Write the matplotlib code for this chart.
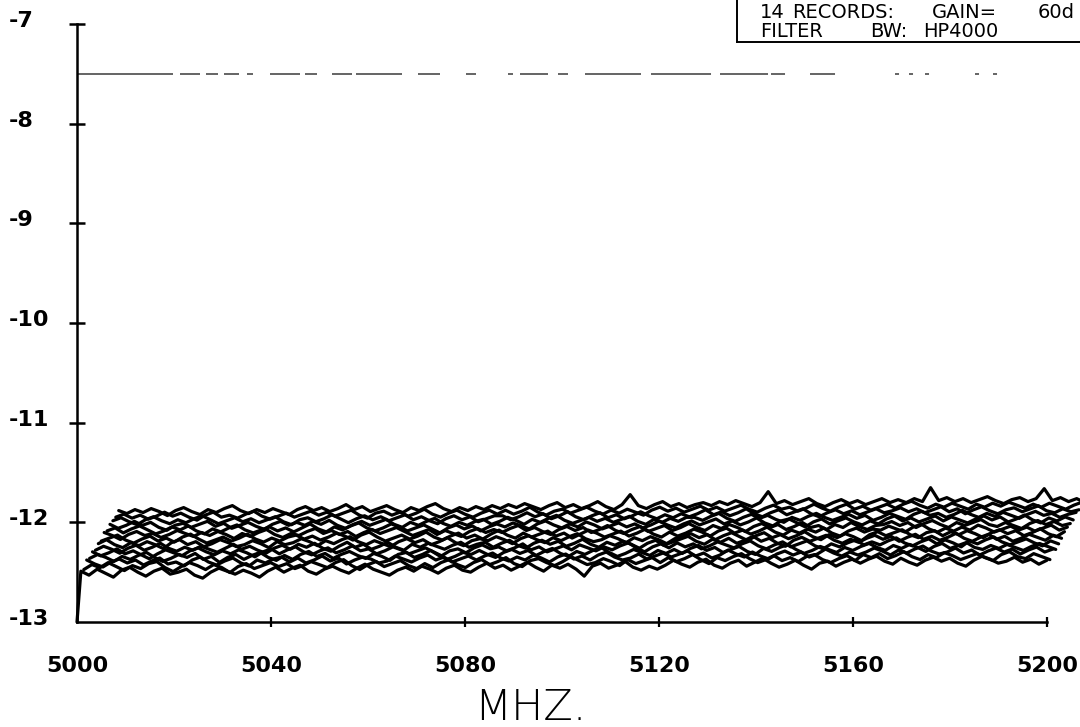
import numpy as np
import matplotlib
matplotlib.use("Agg")
import matplotlib.pyplot as plt
from matplotlib import transforms
from matplotlib.lines import Line2D

plt.rcParams['font.family'] = ['DejaVu Sans']
plt.rcParams['lines.scale_dashes'] = False

# ---------------- data ----------------
x_ticks = [5000, 5040, 5080, 5120, 5160, 5200]
y_ticks = [-13, -12, -11, -10, -9, -8, -7]
x_label = "MHZ."
info_line1 = ["14", "RECORDS:", "GAIN=", "60d"]
info_line2 = ["FILTER", "BW:", "HP4000"]
ref_level = -7.5
front_start_value = -13.00   # first (start) bin of the front record

# 14 records, front (rec01) to back (rec14)
rec01 = [
 -12.49,-12.53,-12.47,-12.51,-12.55,-12.48,-12.45,-12.50,-12.54,-12.49,-12.46,-12.52,-12.50,-12.47,-12.53,-12.56,-12.50,-12.46,-12.49,-12.52,-12.48,-12.51,-12.55,-12.49,
 -12.45,-12.50,-12.46,-12.43,-12.49,-12.52,-12.47,-12.44,-12.48,-12.51,-12.46,-12.42,-12.47,-12.50,-12.53,-12.48,-12.45,-12.49,-12.44,-12.47,-12.51,-12.46,-12.43,-12.48,
 -12.50,-12.45,-12.41,-12.46,-12.43,-12.48,-12.44,-12.40,-12.45,-12.49,-12.43,-12.46,-12.42,-12.47,-12.54,-12.44,-12.41,-12.46,-12.43,-12.39,-12.45,-12.48,-12.44,-12.47,
 -12.43,-12.38,-12.42,-12.45,-12.40,-12.37,-12.43,-12.46,-12.41,-12.38,-12.44,-12.40,-12.36,-12.41,-12.45,-12.42,-12.38,-12.43,-12.47,-12.41,-12.39,-12.44,-12.40,-12.37,
 -12.41,-12.37,-12.34,-12.39,-12.42,-12.36,-12.40,-12.43,-12.38,-12.35,-12.39,-12.36,-12.41,-12.44,-12.38,-12.34,-12.37,-12.41,-12.39,-12.35,-12.40,-12.37,-12.42,-12.38]
rec02 = [
 -12.52,-12.47,-12.50,-12.45,-12.49,-12.53,-12.48,-12.51,-12.46,-12.44,-12.50,-12.54,-12.49,-12.45,-12.48,-12.52,-12.47,-12.50,-12.55,-12.49,-12.46,-12.51,-12.48,-12.45,
 -12.49,-12.46,-12.51,-12.48,-12.44,-12.47,-12.50,-12.45,-12.42,-12.48,-12.52,-12.47,-12.44,-12.49,-12.46,-12.43,-12.48,-12.51,-12.46,-12.50,-12.45,-12.42,-12.47,-12.50,
 -12.45,-12.42,-12.47,-12.44,-12.40,-12.46,-12.49,-12.43,-12.41,-12.45,-12.48,-12.44,-12.39,-12.43,-12.47,-12.45,-12.41,-12.44,-12.48,-12.42,-12.46,-12.43,-12.40,-12.45,
 -12.40,-12.44,-12.41,-12.37,-12.42,-12.46,-12.40,-12.43,-12.39,-12.36,-12.41,-12.45,-12.42,-12.38,-12.43,-12.40,-12.44,-12.39,-12.37,-12.42,-12.45,-12.41,-12.38,-12.43,
 -12.37,-12.40,-12.36,-12.41,-12.38,-12.34,-12.39,-12.42,-12.37,-12.40,-12.35,-12.38,-12.42,-12.39,-12.36,-12.40,-12.43,-12.37,-12.34,-12.39,-12.41,-12.36,-12.39,-12.42]
rec03 = [
 -12.47,-12.51,-12.54,-12.49,-12.46,-12.50,-12.47,-12.52,-12.48,-12.45,-12.51,-12.49,-12.53,-12.47,-12.44,-12.49,-12.52,-12.48,-12.45,-12.50,-12.53,-12.47,-12.50,-12.46,
 -12.44,-12.49,-12.45,-12.50,-12.47,-12.43,-12.48,-12.45,-12.51,-12.47,-12.44,-12.46,-12.50,-12.48,-12.43,-12.46,-12.49,-12.45,-12.42,-12.47,-12.44,-12.49,-12.46,-12.43,
 -12.47,-12.43,-12.40,-12.45,-12.48,-12.44,-12.47,-12.42,-12.45,-12.49,-12.44,-12.41,-12.46,-12.43,-12.47,-12.42,-12.39,-12.44,-12.47,-12.45,-12.41,-12.46,-12.43,-12.40,
 -12.44,-12.41,-12.38,-12.43,-12.40,-12.45,-12.42,-12.37,-12.41,-12.44,-12.39,-12.43,-12.46,-12.41,-12.38,-12.42,-12.39,-12.44,-12.41,-12.36,-12.40,-12.43,-12.39,-12.42,
 -12.39,-12.35,-12.38,-12.42,-12.37,-12.40,-12.36,-12.33,-12.38,-12.41,-12.39,-12.35,-12.40,-12.37,-12.42,-12.38,-12.35,-12.39,-12.36,-12.41,-12.37,-12.34,-12.39,-12.36]
rec04 = [
 -12.50,-12.46,-12.49,-12.53,-12.48,-12.51,-12.47,-12.44,-12.49,-12.53,-12.50,-12.46,-12.49,-12.45,-12.51,-12.48,-12.54,-12.49,-12.46,-12.51,-12.47,-12.44,-12.49,-12.52,
 -12.47,-12.51,-12.46,-12.43,-12.48,-12.45,-12.50,-12.46,-12.43,-12.47,-12.50,-12.45,-12.48,-12.52,-12.46,-12.44,-12.49,-12.46,-12.42,-12.47,-12.51,-12.48,-12.44,-12.46,
 -12.42,-12.46,-12.49,-12.44,-12.41,-12.45,-12.42,-12.47,-12.43,-12.40,-12.45,-12.48,-12.43,-12.46,-12.42,-12.39,-12.44,-12.48,-12.45,-12.41,-12.44,-12.47,-12.42,-12.45,
 -12.41,-12.45,-12.40,-12.37,-12.42,-12.39,-12.44,-12.41,-12.38,-12.43,-12.46,-12.40,-12.43,-12.39,-12.36,-12.41,-12.45,-12.42,-12.38,-12.41,-12.44,-12.39,-12.42,-12.38,
 -12.35,-12.39,-12.42,-12.37,-12.40,-12.36,-12.39,-12.43,-12.38,-12.35,-12.40,-12.37,-12.34,-12.39,-12.41,-12.37,-12.40,-12.36,-12.39,-12.42,-12.38,-12.35,-12.38,-12.41]
rec05 = [
 -12.48,-12.52,-12.49,-12.45,-12.50,-12.47,-12.51,-12.55,-12.50,-12.46,-12.49,-12.52,-12.47,-12.44,-12.48,-12.51,-12.47,-12.50,-12.46,-12.49,-12.53,-12.48,-12.45,-12.50,
 -12.46,-12.43,-12.48,-12.51,-12.47,-12.44,-12.49,-12.46,-12.42,-12.47,-12.45,-12.50,-12.47,-12.43,-12.46,-12.50,-12.47,-12.44,-12.48,-12.52,-12.47,-12.45,-12.49,-12.44,
 -12.41,-12.45,-12.43,-12.47,-12.44,-12.40,-12.46,-12.43,-12.48,-12.45,-12.42,-12.46,-12.41,-12.44,-12.47,-12.43,-12.46,-12.42,-12.39,-12.44,-12.48,-12.43,-12.40,-12.44,
 -12.39,-12.43,-12.40,-12.45,-12.42,-12.38,-12.41,-12.44,-12.40,-12.37,-12.42,-12.45,-12.41,-12.38,-12.43,-12.40,-12.37,-12.42,-12.45,-12.40,-12.43,-12.39,-12.36,-12.41,
 -12.38,-12.41,-12.37,-12.34,-12.39,-12.42,-12.38,-12.35,-12.40,-12.36,-12.39,-12.43,-12.37,-12.40,-12.36,-12.33,-12.38,-12.41,-12.38,-12.35,-12.39,-12.42,-12.37,-12.40]
rec06 = [
 -12.51,-12.47,-12.50,-12.54,-12.49,-12.46,-12.51,-12.48,-12.44,-12.49,-12.52,-12.48,-12.51,-12.47,-12.50,-12.53,-12.49,-12.45,-12.50,-12.47,-12.51,-12.54,-12.49,-12.46,
 -12.50,-12.45,-12.48,-12.44,-12.49,-12.52,-12.47,-12.43,-12.48,-12.45,-12.50,-12.47,-12.43,-12.48,-12.51,-12.45,-12.48,-12.44,-12.47,-12.50,-12.46,-12.43,-12.48,-12.45,
 -12.43,-12.48,-12.44,-12.41,-12.46,-12.49,-12.44,-12.41,-12.45,-12.42,-12.47,-12.44,-12.40,-12.45,-12.48,-12.43,-12.46,-12.42,-12.45,-12.49,-12.44,-12.41,-12.46,-12.43,
 -12.40,-12.37,-12.42,-12.45,-12.40,-12.43,-12.39,-12.44,-12.41,-12.37,-12.42,-12.39,-12.44,-12.47,-12.41,-12.38,-12.42,-12.39,-12.36,-12.41,-12.44,-12.40,-12.43,-12.39,
 -12.36,-12.40,-12.37,-12.42,-12.38,-12.35,-12.40,-12.37,-12.41,-12.38,-12.34,-12.39,-12.42,-12.38,-12.35,-12.40,-12.37,-12.42,-12.39,-12.35,-12.38,-12.41,-12.36,-12.39]
rec07 = [
 -12.49,-12.45,-12.50,-12.53,-12.48,-12.51,-12.47,-12.50,-12.54,-12.48,-12.45,-12.50,-12.47,-12.52,-12.49,-12.45,-12.48,-12.52,-12.50,-12.46,-12.49,-12.53,-12.47,-12.50,
 -12.48,-12.44,-12.47,-12.51,-12.46,-12.49,-12.45,-12.42,-12.47,-12.50,-12.46,-12.49,-12.52,-12.47,-12.44,-12.48,-12.45,-12.50,-12.47,-12.43,-12.48,-12.51,-12.46,-12.44,
 -12.46,-12.42,-12.45,-12.49,-12.44,-12.41,-12.45,-12.48,-12.43,-12.46,-12.42,-12.39,-12.44,-12.47,-12.45,-12.41,-12.44,-12.48,-12.43,-12.46,-12.42,-12.45,-12.49,-12.44,
 -12.42,-12.39,-12.43,-12.40,-12.45,-12.41,-12.38,-12.42,-12.46,-12.41,-12.38,-12.43,-12.40,-12.44,-12.41,-12.37,-12.42,-12.45,-12.40,-12.43,-12.39,-12.42,-12.46,-12.40,
 -12.37,-12.41,-12.38,-12.35,-12.40,-12.43,-12.38,-12.36,-12.41,-12.37,-12.40,-12.36,-12.39,-12.43,-12.38,-12.35,-12.39,-12.36,-12.41,-12.38,-12.34,-12.39,-12.42,-12.37]
rec08 = [
 -12.51,-12.48,-12.45,-12.50,-12.53,-12.49,-12.46,-12.51,-12.48,-12.52,-12.47,-12.44,-12.49,-12.53,-12.50,-12.47,-12.51,-12.48,-12.44,-12.49,-12.52,-12.48,-12.51,-12.47,
 -12.45,-12.49,-12.46,-12.50,-12.47,-12.43,-12.46,-12.50,-12.45,-12.42,-12.47,-12.51,-12.48,-12.45,-12.49,-12.46,-12.42,-12.47,-12.50,-12.46,-12.43,-12.48,-12.45,-12.49,
 -12.44,-12.40,-12.45,-12.48,-12.43,-12.47,-12.44,-12.41,-12.46,-12.43,-12.48,-12.44,-12.40,-12.43,-12.47,-12.44,-12.41,-12.46,-12.43,-12.39,-12.44,-12.47,-12.42,-12.46,
 -12.43,-12.39,-12.42,-12.46,-12.41,-12.38,-12.43,-12.40,-12.44,-12.41,-12.37,-12.42,-12.45,-12.40,-12.43,-12.39,-12.42,-12.38,-12.43,-12.46,-12.41,-12.38,-12.42,-12.39,
 -12.40,-12.36,-12.39,-12.42,-12.37,-12.34,-12.39,-12.42,-12.38,-12.41,-12.37,-12.40,-12.35,-12.38,-12.42,-12.39,-12.36,-12.40,-12.37,-12.41,-12.38,-12.35,-12.40,-12.37]
rec09 = [
 -12.47,-12.50,-12.54,-12.49,-12.46,-12.50,-12.48,-12.52,-12.49,-12.45,-12.48,-12.51,-12.47,-12.50,-12.46,-12.49,-12.53,-12.48,-12.51,-12.47,-12.44,-12.49,-12.52,-12.48,
 -12.50,-12.46,-12.43,-12.48,-12.45,-12.49,-12.46,-12.51,-12.47,-12.44,-12.48,-12.45,-12.42,-12.46,-12.50,-12.47,-12.44,-12.49,-12.45,-12.48,-12.51,-12.46,-12.43,-12.47,
 -12.44,-12.47,-12.43,-12.40,-12.45,-12.42,-12.46,-12.49,-12.44,-12.41,-12.45,-12.42,-12.47,-12.44,-12.40,-12.45,-12.48,-12.44,-12.41,-12.46,-12.43,-12.40,-12.45,-12.42,
 -12.38,-12.42,-12.45,-12.40,-12.43,-12.39,-12.42,-12.46,-12.41,-12.38,-12.42,-12.39,-12.44,-12.41,-12.37,-12.42,-12.40,-12.44,-12.39,-12.42,-12.37,-12.41,-12.44,-12.40,
 -12.39,-12.36,-12.40,-12.37,-12.42,-12.38,-12.35,-12.39,-12.42,-12.37,-12.40,-12.37,-12.34,-12.39,-12.41,-12.37,-12.40,-12.43,-12.38,-12.35,-12.39,-12.36,-12.40,-12.38]
rec10 = [
 -12.50,-12.47,-12.52,-12.48,-12.45,-12.49,-12.53,-12.50,-12.46,-12.49,-12.45,-12.50,-12.53,-12.48,-12.51,-12.47,-12.44,-12.49,-12.52,-12.49,-12.46,-12.50,-12.47,-12.51,
 -12.47,-12.43,-12.48,-12.51,-12.46,-12.49,-12.45,-12.42,-12.47,-12.50,-12.47,-12.43,-12.46,-12.50,-12.47,-12.44,-12.48,-12.52,-12.47,-12.44,-12.48,-12.45,-12.50,-12.46,
 -12.43,-12.46,-12.42,-12.45,-12.48,-12.43,-12.40,-12.44,-12.47,-12.43,-12.46,-12.41,-12.44,-12.48,-12.45,-12.42,-12.46,-12.43,-12.47,-12.44,-12.40,-12.44,-12.47,-12.43,
 -12.40,-12.44,-12.41,-12.38,-12.43,-12.40,-12.44,-12.41,-12.37,-12.42,-12.45,-12.40,-12.38,-12.42,-12.46,-12.41,-12.38,-12.43,-12.40,-12.37,-12.41,-12.44,-12.40,-12.43,
 -12.38,-12.35,-12.40,-12.37,-12.41,-12.38,-12.35,-12.40,-12.36,-12.39,-12.42,-12.38,-12.35,-12.39,-12.36,-12.41,-12.38,-12.34,-12.39,-12.42,-12.37,-12.40,-12.36,-12.39]
rec11 = [
 -12.48,-12.52,-12.49,-12.45,-12.49,-12.46,-12.51,-12.54,-12.49,-12.47,-12.51,-12.48,-12.45,-12.50,-12.47,-12.52,-12.49,-12.46,-12.50,-12.53,-12.48,-12.45,-12.49,-12.46,
 -12.49,-12.45,-12.48,-12.44,-12.49,-12.52,-12.48,-12.45,-12.49,-12.46,-12.43,-12.48,-12.51,-12.46,-12.49,-12.45,-12.42,-12.47,-12.50,-12.46,-12.49,-12.45,-12.43,-12.48,
 -12.45,-12.41,-12.44,-12.48,-12.43,-12.46,-12.42,-12.39,-12.44,-12.47,-12.44,-12.41,-12.45,-12.42,-12.46,-12.43,-12.40,-12.45,-12.48,-12.43,-12.46,-12.42,-12.45,-12.41,
 -12.41,-12.44,-12.40,-12.37,-12.42,-12.45,-12.41,-12.38,-12.42,-12.39,-12.43,-12.46,-12.41,-12.44,-12.40,-12.37,-12.41,-12.44,-12.41,-12.38,-12.42,-12.39,-12.44,-12.41,
 -12.37,-12.40,-12.43,-12.38,-12.35,-12.39,-12.37,-12.41,-12.38,-12.34,-12.38,-12.41,-12.37,-12.40,-12.36,-12.39,-12.42,-12.38,-12.35,-12.39,-12.37,-12.41,-12.38,-12.36]
rec12 = [
 -12.49,-12.46,-12.50,-12.53,-12.48,-12.45,-12.49,-12.52,-12.48,-12.51,-12.47,-12.44,-12.48,-12.52,-12.49,-12.46,-12.50,-12.47,-12.51,-12.48,-12.45,-12.50,-12.53,-12.48,
 -12.46,-12.50,-12.47,-12.43,-12.47,-12.51,-12.47,-12.44,-12.48,-12.45,-12.49,-12.46,-12.43,-12.48,-12.45,-12.49,-12.52,-12.47,-12.44,-12.48,-12.45,-12.50,-12.47,-12.44,
 -12.44,-12.48,-12.45,-12.41,-12.45,-12.42,-12.47,-12.44,-12.40,-12.45,-12.48,-12.44,-12.41,-12.46,-12.43,-12.47,-12.44,-12.40,-12.44,-12.47,-12.43,-12.46,-12.42,-12.45,
 -12.42,-12.38,-12.43,-12.40,-12.44,-12.41,-12.37,-12.42,-12.45,-12.41,-12.38,-12.43,-12.40,-12.37,-12.42,-12.45,-12.41,-12.38,-12.42,-12.39,-12.43,-12.40,-12.37,-12.41,
 -12.39,-12.36,-12.40,-12.37,-12.41,-12.38,-12.35,-12.40,-12.37,-12.42,-12.38,-12.35,-12.39,-12.42,-12.38,-12.36,-12.40,-12.37,-12.34,-12.39,-12.41,-12.37,-12.40,-12.38]
rec13 = [
 -12.50,-12.47,-12.51,-12.48,-12.52,-12.49,-12.45,-12.49,-12.46,-12.50,-12.53,-12.48,-12.45,-12.50,-12.48,-12.51,-12.47,-12.44,-12.49,-12.52,-12.49,-12.46,-12.50,-12.47,
 -12.44,-12.48,-12.45,-12.49,-12.46,-12.43,-12.48,-12.51,-12.46,-12.44,-12.48,-12.45,-12.49,-12.46,-12.42,-12.47,-12.50,-12.46,-12.43,-12.47,-12.50,-12.46,-12.43,-12.47,
 -12.43,-12.47,-12.44,-12.40,-12.45,-12.48,-12.44,-12.42,-12.46,-12.43,-12.40,-12.44,-12.47,-12.43,-12.46,-12.42,-12.45,-12.48,-12.43,-12.40,-12.44,-12.41,-12.45,-12.42,
 -12.39,-12.43,-12.40,-12.44,-12.41,-12.38,-12.42,-12.45,-12.41,-12.38,-12.42,-12.40,-12.44,-12.41,-12.37,-12.41,-12.44,-12.40,-12.37,-12.42,-12.39,-12.43,-12.40,-12.37,
 -12.41,-12.37,-12.34,-12.38,-12.41,-12.37,-12.40,-12.36,-12.39,-12.42,-12.37,-12.40,-12.36,-12.39,-12.35,-12.38,-12.41,-12.37,-12.40,-12.36,-12.39,-12.42,-12.38,-12.35]
rec14 = [
 -12.48,-12.51,-12.47,-12.50,-12.46,-12.49,-12.53,-12.48,-12.45,-12.49,-12.52,-12.47,-12.50,-12.46,-12.43,-12.48,-12.51,-12.47,-12.50,-12.46,-12.49,-12.52,-12.47,-12.44,
 -12.48,-12.45,-12.49,-12.46,-12.42,-12.47,-12.44,-12.49,-12.46,-12.43,-12.47,-12.50,-12.45,-12.48,-12.44,-12.41,-12.46,-12.49,-12.45,-12.48,-12.44,-12.47,-12.43,-12.46,
 -12.42,-12.45,-12.41,-12.44,-12.47,-12.43,-12.40,-12.45,-12.42,-12.46,-12.43,-12.39,-12.44,-12.47,-12.42,-12.32,-12.43,-12.46,-12.42,-12.39,-12.44,-12.41,-12.45,-12.42,
 -12.40,-12.43,-12.39,-12.42,-12.38,-12.41,-12.44,-12.40,-12.29,-12.41,-12.38,-12.42,-12.39,-12.36,-12.41,-12.44,-12.40,-12.37,-12.41,-12.38,-12.42,-12.39,-12.36,-12.40,
 -12.37,-12.40,-12.36,-12.39,-12.25,-12.38,-12.35,-12.39,-12.36,-12.40,-12.37,-12.34,-12.38,-12.41,-12.37,-12.35,-12.39,-12.36,-12.26,-12.38,-12.35,-12.39,-12.36,-12.40]
records = [rec01, rec02, rec03, rec04, rec05, rec06, rec07,
           rec08, rec09, rec10, rec11, rec12, rec13, rec14]

# ---------------- layout / style ----------------
W, H, DPI = 1080, 727, 100
fig = plt.figure(figsize=(W / DPI, H / DPI), dpi=DPI)
ax = fig.add_axes([77 / W, 1 - 622 / H, 970 / W, (622 - 24) / H])
ax.set_xlim(x_ticks[0], x_ticks[-1])
ax.set_ylim(y_ticks[0], y_ticks[-1])

# waterfall display offsets (per record) -- layout only
dx_rec = 0.6      # MHz shift per record
dy_rec = 0.046    # vertical shift per record
first_gap = 0.8   # MHz between start bin and first data bin

n_rec = len(records)
for k in range(n_rec - 1, -1, -1):
    vals = np.asarray(records[k], dtype=float)
    f = np.linspace(x_ticks[0] + first_gap, x_ticks[-1], len(vals))
    if k == 0:
        f = np.concatenate([[x_ticks[0]], f])
        vals = np.concatenate([[front_start_value], vals])
    xs = f + k * dx_rec
    ys = vals + k * dy_rec
    ax.plot(xs, ys, color='black', lw=2.3, zorder=2, clip_on=False,
            solid_joinstyle='round', solid_capstyle='round')

# broken reference line (split in two dash patterns: Agg limits dash length)
px2pt = 72.0 / DPI
dash_a = [96, 7, 20, 6, 12, 6, 15, 8, 6, 17, 30, 5, 12, 15, 20, 4, 46, 16, 22, 26,
          10, 32, 5, 7, 28, 10, 10, 17, 56, 410]
dash_b = [0.01, 574, 60, 9, 48, 3, 14, 25, 25, 60, 4, 10, 4, 12, 4, 46, 4, 14, 4, 300]
for pat in (dash_a, dash_b):
    ax.plot([x_ticks[0], x_ticks[-1]], [ref_level, ref_level], color='#3a3a3a',
            lw=1.1, linestyle=(0, [d * px2pt for d in pat]), zorder=1.5)

# spines / ticks
for s in ['top', 'right']:
    ax.spines[s].set_visible(False)
for s in ['left', 'bottom']:
    ax.spines[s].set_linewidth(1.8)
    ax.spines[s].set_zorder(3)
ax.set_xticks(x_ticks[1:])
ax.set_yticks(y_ticks[1:])
ax.tick_params(axis='x', direction='inout', length=7.5, width=1.6,
               labelbottom=False)
ax.tick_params(axis='y', direction='inout', length=11, width=1.8,
               labelleft=False)
ax.patch.set_visible(False)

# tick labels
lab_font = dict(fontsize=16, fontweight='bold', color='black')
ytr = transforms.blended_transform_factory(fig.transFigure, ax.transData)
for v in y_ticks:
    fig.text(9 / W, v - 0.03, "%d" % v, transform=ytr, ha='left',
             va='baseline', **lab_font)
xtr = transforms.blended_transform_factory(ax.transData, fig.transFigure)
for v in x_ticks:
    fig.text(v, 1 - 672 / H, "%d" % v, transform=xtr, ha='center',
             va='baseline', **lab_font)

fig.text(530 / W, 1 - 720 / H, x_label, ha='center', va='baseline',
         fontsize=31, fontweight='light', color='black')

# info box
box_font = dict(fontsize=14, color='black', va='baseline', ha='left')
for txt, xp in zip(info_line1, [760, 792, 932, 1038]):
    fig.text(xp / W, 1 - 18 / H, txt, **box_font)
for txt, xp in zip(info_line2, [760, 870, 923]):
    fig.text(xp / W, 1 - 37 / H, txt, **box_font)
fig.add_artist(Line2D([737 / W, 737 / W], [1, 1 - 42 / H], color='black', lw=1.4))
fig.add_artist(Line2D([737 / W, 1], [1 - 42 / H, 1 - 42 / H], color='black', lw=1.4))

fig.savefig("out.png", dpi=DPI)
